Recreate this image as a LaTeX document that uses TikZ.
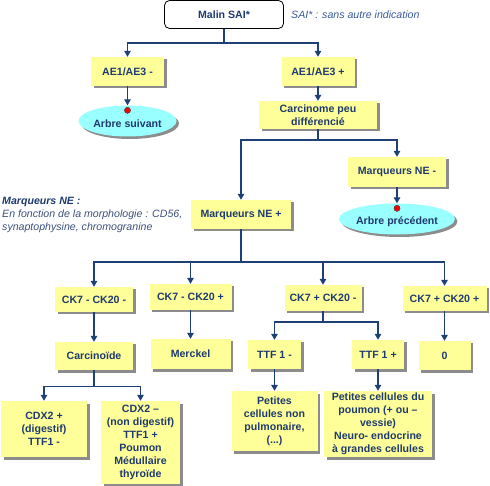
\documentclass[tikz,border=0pt]{standalone}
\usepackage{fontspec}
\setmainfont{Liberation Sans}
\usetikzlibrary{arrows.meta,shapes.geometric,shadows}
\definecolor{navy}{HTML}{1F3A6E}
\definecolor{lineblue}{HTML}{1F3F77}
\definecolor{boxyel}{HTML}{FFFF99}
\definecolor{cyanfill}{HTML}{99FFFF}
\definecolor{noteblue}{HTML}{3A5A96}
\definecolor{notegray}{HTML}{3D4F7A}
\begin{document}
\begin{tikzpicture}[x=1pt,y=-1pt,
  every node/.style={font=\fontsize{10.6}{13}\selectfont\bfseries, text=navy, inner sep=0pt, align=center},
  shad/.style={drop shadow={shadow xshift=2.5pt, shadow yshift=-2.5pt, fill=black!45, opacity=1}},
  ybox/.style n args={2}{rectangle, fill=boxyel, minimum width=#1pt, minimum height=#2pt, shad},
  oval/.style={ellipse, fill=cyanfill, minimum width=98pt, minimum height=31pt, shad},
  reddot/.style={circle, fill=red, draw=black!70, line width=0.4pt, minimum size=6pt},
  arr/.style={draw=lineblue, line width=1.4pt, -{Triangle[width=6.5pt,length=6pt]}},
  notetxt/.style={font=\fontsize{10.6}{13}\selectfont\itshape, anchor=west, align=left}
]
\useasboundingbox (0,0) rectangle (490,486);

% top
\node[rectangle, rounded corners=5pt, draw=black, line width=0.8pt, fill=white, minimum width=119pt, minimum height=28pt] (malin) at (224,14.5) {Malin SAI*};
\node[notetxt, text=noteblue] (sai) at (291,15) {SAI* : sans autre indication};

\node[ybox={73}{29}] (aem) at (127.5,71.5) {AE1/AE3 -};
\node[ybox={73}{29}] (aep) at (318,71.5) {AE1/AE3 +};
\node[oval] (suiv) at (127.5,121) {\\[1pt]Arbre suivant};
\node[reddot] (dot1) at ([yshift=-5pt]suiv.north) {};
\node[ybox={118}{28}] (carc) at (318,115) {Carcinome peu\\différencié};

\node[ybox={98}{30}] (nem) at (397,172) {Marqueurs NE -};
\node[oval] (prec) at (397,219) {\\[1pt]Arbre précédent};
\node[reddot] (dot2) at ([yshift=-5pt]prec.north) {};
\node[ybox={100}{29}] (nep) at (241,214.5) {Marqueurs NE +};

\node[notetxt, text=notegray] (note) at (2,215) {{\bfseries\itshape\color{navy}Marqueurs NE :}\\En fonction de la morphologie : CD56,\\synaptophysine, chromogranine};

% CK row
\node[ybox={78}{25}] (ck1) at (94,299.5) {CK7 - CK20 -};
\node[ybox={82}{26}] (ck2) at (190.5,297) {CK7 - CK20 +};
\node[ybox={77}{26}] (ck3) at (323,298) {CK7 + CK20 -};
\node[ybox={84}{25}] (ck4) at (444.5,298.5) {CK7 + CK20 +};

\node[ybox={78}{28}] (carcd) at (94,356) {Carcinoïde};
\node[ybox={80}{30}] (merck) at (190.5,354) {Merckel};
\node[ybox={53}{29}] (ttfm) at (274.5,354.5) {TTF 1 -};
\node[ybox={52}{29}] (ttfp) at (378,354.5) {TTF 1 +};
\node[ybox={52}{29}] (zero) at (444.5,355.5) {0};

\node[ybox={86}{56}] (cdxp) at (44,429) {CDX2 +\\(digestif)\\TTF1 -};
\node[ybox={79}{83}] (cdxm) at (140.5,442.5) {CDX2 –\\(non digestif)\\TTF1 +\\Poumon\\Médullaire\\thyroïde};
\node[ybox={86}{60}] (pcn) at (274.5,421) {Petites\\cellules non\\pulmonaire,\\(...)};
\node[ybox={108}{66}] (pcd) at (378,424) {Petites cellules du\\poumon (+ ou –\\vessie)\\Neuro- endocrine\\à grandes cellules};

% connectors
\draw[arr] (malin.south) -- ++(0,14) -| (aem.north);
\draw[arr] (malin.south) -- ++(0,14) -| (aep.north);
\draw[arr] (aem.south) -- (suiv.north);
\draw[arr] (aep.south) -- (carc.north);
\draw[arr] (carc.south) -- ++(0,11) -| (nep.north);
\draw[arr] (carc.south) -- ++(0,11) -| (nem.north);
\draw[arr] (nem.south) -- (prec.north);
\draw[arr] (nep.south) -- ++(0,33) -| (ck1.north);
\draw[arr] (nep.south) -- ++(0,33) -| (ck2.north);
\draw[arr] (nep.south) -- ++(0,33) -| (ck3.north);
\draw[arr] (nep.south) -- ++(0,33) -| (ck4.north);
\draw[arr] (ck1.south) -- (carcd.north);
\draw[arr] (ck2.south) -- (merck.north);
\draw[arr] (ck3.south) -- ++(0,11) -| (ttfm.north);
\draw[arr] (ck3.south) -- ++(0,11) -| (ttfp.north);
\draw[arr] (ck4.south) -- (zero.north);
\draw[arr] (carcd.south) -- ++(0,16) -| (cdxp.north);
\draw[arr] (carcd.south) -- ++(0,16) -| (cdxm.north);
\draw[arr] (ttfm.south) -- (pcn.north);
\draw[arr] (ttfp.south) -- (pcd.north);
% redraw dots above arrow tips
\node[reddot] at (dot1) {};
\node[reddot] at (dot2) {};
\end{tikzpicture}
\end{document}
